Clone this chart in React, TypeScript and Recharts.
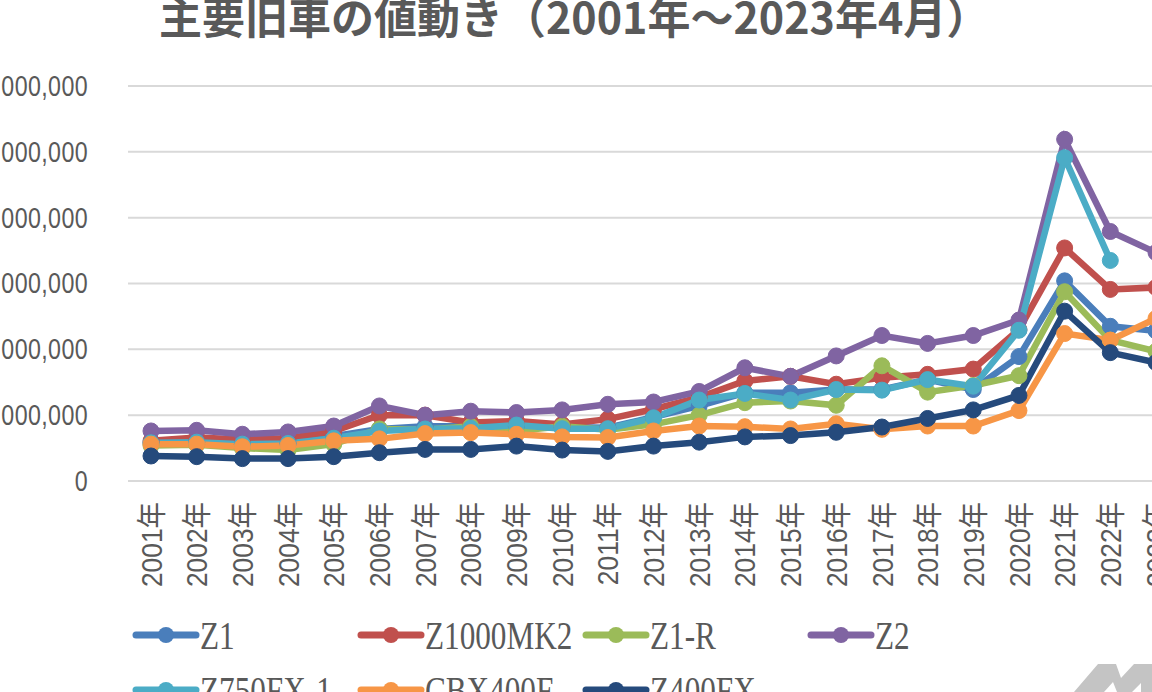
import React from 'react';
import { LineChart, Line, XAxis, YAxis, CartesianGrid, Legend } from 'recharts';

// 年ごとの相場（円）
const years = [
  '2001年', '2002年', '2003年', '2004年', '2005年', '2006年', '2007年', '2008年',
  '2009年', '2010年', '2011年', '2012年', '2013年', '2014年', '2015年', '2016年',
  '2017年', '2018年', '2019年', '2020年', '2021年', '2022年', '2023年',
];

const z1 = [
  580000, 590000, 560000, 570000, 680000, 790000, 830000, 830000, 830000, 820000, 810000, 970000,
  1140000, 1340000, 1340000, 1390000, 1390000, 1540000, 1390000, 1890000, 3040000, 2350000, 2280000,
];
const z1000mk2 = [
  610000, 660000, 630000, 650000, 760000, 1000000, 1000000, 890000, 910000, 860000, 940000, 1090000,
  1270000, 1520000, 1590000, 1470000, 1570000, 1620000, 1700000, 2300000, 3540000, 2910000, 2940000,
];
const z1r = [
  540000, 550000, 500000, 470000, 560000, 790000, 780000, 830000, 760000, 830000, 780000, 860000,
  1000000, 1190000, 1215000, 1150000, 1750000, 1350000, 1450000, 1600000, 2875000, 2140000, 1970000,
];
const z2 = [
  760000, 770000, 710000, 745000, 835000, 1140000, 1000000, 1060000, 1040000, 1080000, 1165000, 1200000,
  1360000, 1720000, 1590000, 1900000, 2210000, 2090000, 2210000, 2445000, 5190000, 3790000, 3470000,
];
const z750fx1 = [
  580000, 590000, 560000, 570000, 650000, 760000, 790000, 800000, 850000, 795000, 795000, 960000,
  1230000, 1330000, 1230000, 1390000, 1380000, 1540000, 1440000, 2290000, 4910000, 3350000, null,
];
const cbx400f = [
  560000, 560000, 520000, 540000, 610000, 640000, 720000, 735000, 710000, 670000, 660000, 760000,
  835000, 825000, 790000, 870000, 785000, 835000, 835000, 1070000, 2240000, 2140000, 2470000,
];
const z400fx = [
  380000, 370000, 340000, 340000, 370000, 430000, 480000, 480000, 530000, 470000, 450000, 530000,
  590000, 670000, 690000, 740000, 820000, 950000, 1080000, 1300000, 2580000, 1950000, 1800000,
];

const yTicks = [0, 1000000, 2000000, 3000000, 4000000, 5000000, 6000000];

const SERIES = [
  { key: 'Z1', values: z1, color: '#4A7EBB' },
  { key: 'Z1000MK2', values: z1000mk2, color: '#C0504D' },
  { key: 'Z1-R', values: z1r, color: '#9BBB59' },
  { key: 'Z2', values: z2, color: '#8064A2' },
  { key: 'Z750FX-1', values: z750fx1, color: '#4BACC6' },
  { key: 'CBX400F', values: cbx400f, color: '#F79646' },
  { key: 'Z400FX', values: z400fx, color: '#254A7C' },
];

const rows = years.map((year, i) => {
  const row: Record<string, string | number | null> = { year };
  SERIES.forEach((s) => {
    row[s.key] = s.values[i];
  });
  return row;
});

const TEXT = '#595959';
const SANS = '"Liberation Sans", "Noto Sans CJK JP", sans-serif';

// rotated year labels, squeezed a little along the text like the original
const YearTick = (props: any) => {
  const { x, y, payload } = props;
  return (
    <text
      transform={`translate(${x}, ${y}) rotate(-90) scale(0.88, 1)`}
      textAnchor="end"
      dominantBaseline="central"
      fill={TEXT}
      fontSize={30}
      fontFamily={SANS}
    >
      {payload.value}
    </text>
  );
};

const PriceTick = (props: any) => {
  const { x, y, payload } = props;
  return (
    <text
      transform={`translate(${x}, ${y}) scale(0.8, 1)`}
      textAnchor="end"
      dominantBaseline="central"
      fill={TEXT}
      fontSize={29}
      fontFamily={SANS}
      letterSpacing={0.5}
    >
      {Number(payload.value).toLocaleString('en-US')}
    </text>
  );
};

const LegendGrid = () => (
  <div style={{ position: 'relative', height: 169 }}>
    {SERIES.map((s, i) => {
      const col = i % 4;
      const row = Math.floor(i / 4);
      return (
        <div
          key={s.key}
          style={{
            position: 'absolute',
            left: 232 + col * 225,
            top: 44 + row * 55 - 25,
            height: 50,
            display: 'flex',
            alignItems: 'center',
          }}
        >
          <svg width={68} height={20} style={{ display: 'block' }}>
            <line x1={4} y1={10} x2={64} y2={10} stroke={s.color} strokeWidth={7} strokeLinecap="round" />
            <circle cx={34} cy={10} r={8} fill={s.color} />
          </svg>
          <span
            style={{
              fontFamily: '"Liberation Serif", serif',
              fontSize: 40,
              color: TEXT,
              display: 'inline-block',
              whiteSpace: 'nowrap',
              transform: 'scaleX(0.78)',
              transformOrigin: 'left center',
            }}
          >
            {s.key}
          </span>
        </div>
      );
    })}
  </div>
);

export default function App() {
  return (
    <div
      style={{
        position: 'absolute',
        left: 0,
        top: 0,
        width: 1152,
        height: 692,
        overflow: 'hidden',
        background: '#fff',
      }}
    >
      <div
        style={{
          position: 'absolute',
          left: 159,
          top: -6,
          fontFamily: '"Noto Sans CJK JP", sans-serif',
          fontWeight: 'bold',
          fontSize: 43,
          lineHeight: '43px',
          color: TEXT,
          whiteSpace: 'nowrap',
        }}
      >
        主要旧車の値動き（2001年～2023年4月）
      </div>
      <div style={{ position: 'absolute', left: -100, top: -40 }}>
        <LineChart
          width={1279}
          height={800}
          data={rows}
          margin={{ top: 126, right: 0, bottom: 0, left: 0 }}
        >
          <CartesianGrid vertical={false} stroke="#D9D9D9" strokeWidth={2} />
          <XAxis
            dataKey="year"
            scale="point"
            padding={{ left: 23, right: 23 }}
            axisLine={false}
            tickLine={false}
            tickMargin={15}
            height={110}
            interval={0}
            tick={<YearTick />}
          />
          <YAxis
            domain={[0, 6000000]}
            ticks={yTicks}
            width={228}
            axisLine={false}
            tickLine={false}
            tickMargin={34}
            tick={<PriceTick />}
          />
          <Legend verticalAlign="bottom" height={169} content={<LegendGrid />} />
          {SERIES.map((s) => (
            <Line
              key={s.key}
              dataKey={s.key}
              stroke={s.color}
              strokeWidth={6.5}
              dot={{ r: 8, fill: s.color, stroke: s.color, strokeWidth: 1 }}
              activeDot={false}
              type="linear"
              isAnimationActive={false}
            />
          ))}
        </LineChart>
      </div>
      {/* site mark in the lower right corner */}
      <svg
        width={1152}
        height={692}
        style={{ position: 'absolute', left: 0, top: 0, pointerEvents: 'none' }}
      >
        <polygon
          points="1074,692 1098,664 1116,664 1121,678 1134,664 1152,664 1152,692 1141,692 1141,683 1132,692 1117,692 1113,682 1104,692"
          fill="#C4C4C4"
        />
      </svg>
    </div>
  );
}
